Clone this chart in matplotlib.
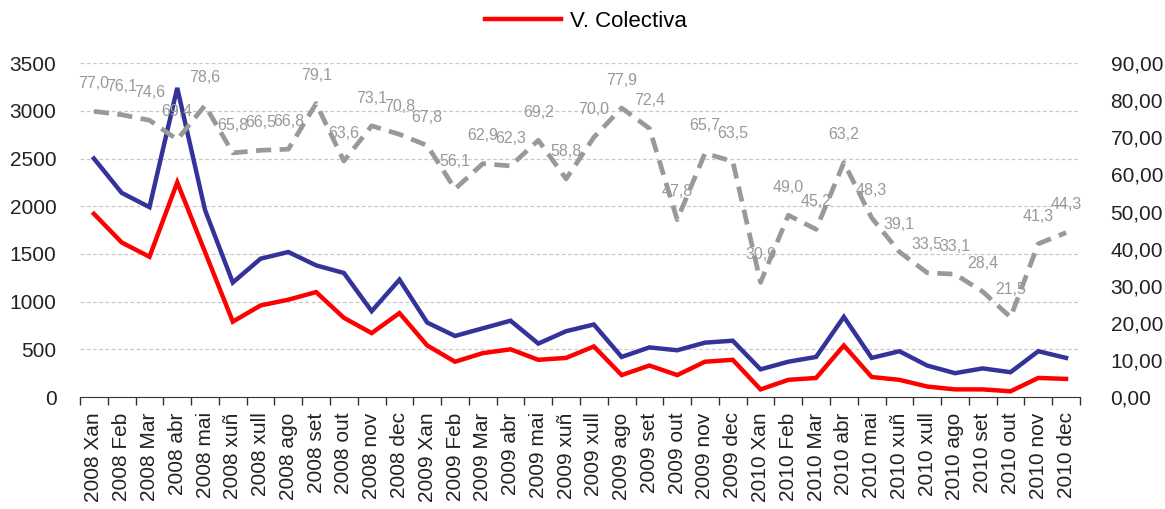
import matplotlib
matplotlib.use("Agg")
import matplotlib.pyplot as plt
from matplotlib.ticker import FixedLocator, FuncFormatter

plt.rcParams['font.family'] = ['Liberation Sans', 'DejaVu Sans']

# meses
anos = ["2008", "2009", "2010"]
meses = ["Xan", "Feb", "Mar", "abr", "mai", "xuñ", "xull", "ago", "set", "out", "nov", "dec"]
etiquetas = [a + " " + m for a in anos for m in meses]

# serie azul (eixo esquerdo)
total = [2500, 2140, 1990, 3240, 1960, 1200, 1450, 1520, 1380, 1300, 900, 1230,
         780, 640, 720, 800, 560, 690, 760, 420, 520, 490, 570, 590,
         290, 370, 420, 840, 410, 480, 330, 250, 300, 260, 480, 410]

# V. Colectiva (eixo esquerdo)
colectiva = [1920, 1620, 1470, 2250, 1520, 790, 960, 1020, 1100, 830, 670, 880,
             540, 370, 460, 500, 390, 410, 530, 230, 330, 230, 370, 390,
             80, 180, 200, 540, 210, 180, 110, 80, 80, 60, 200, 190]

# porcentaxe (eixo dereito)
porcentaxe = [77.0, 76.1, 74.6, 69.4, 78.6, 65.8, 66.5, 66.8, 79.1, 63.6, 73.1, 70.8,
              67.8, 56.1, 62.9, 62.3, 69.2, 58.8, 70.0, 77.9, 72.4, 47.8, 65.7, 63.5,
              30.9, 49.0, 45.2, 63.2, 48.3, 39.1, 33.5, 33.1, 28.4, 21.5, 41.3, 44.3]

x = list(range(len(etiquetas)))

fig = plt.figure(figsize=(11.65, 5.09), dpi=100)
ax = fig.add_axes([0.0687, 0.22, 0.8583, 0.656])
ax2 = ax.twinx()

# grella
for v in range(500, 3501, 500):
    ax.axhline(v, color="#c8c8c8", lw=0.9, ls=(0, (3, 2)), zorder=0)

ax.plot(x, total, color="#333399", lw=3.2, solid_joinstyle="miter", zorder=3)
ax.plot(x, colectiva, color="#ff0000", lw=3.2, solid_joinstyle="miter", zorder=3,
        label="V. Colectiva")

ax2.plot(x, porcentaxe, color="#999999", lw=3.4, ls=(0, (3.2, 1.8)), zorder=2)
for xi, v in zip(x, porcentaxe):
    ax2.annotate(("%.1f" % v).replace(".", ","), (xi, v), xytext=(0, 20),
                 textcoords="offset points", ha="center", va="center",
                 fontsize=11.5, color="#999999")

ax.set_xlim(-0.5, len(etiquetas) - 0.5)
ax.set_ylim(0, 3500)
ax2.set_ylim(0, 90)
ax.set_yticks(range(0, 3501, 500))
ax2.set_yticks(range(0, 91, 10))
ax2.yaxis.set_major_formatter(FuncFormatter(lambda v, p: ("%.2f" % v).replace(".", ",")))

ax.set_xticks(x)
ax.set_xticklabels(etiquetas, rotation=90, fontsize=15, color="#222222")
ax.xaxis.set_minor_locator(FixedLocator([i - 0.5 for i in range(len(etiquetas) + 1)]))
ax.tick_params(axis="x", which="major", length=0, pad=11)
ax.tick_params(axis="x", which="minor", length=6, width=1, color="#333333", direction="out")
ax.tick_params(axis="y", length=0, pad=17, labelsize=15, labelcolor="#222222")
ax2.tick_params(axis="y", length=0, pad=22, labelsize=15, labelcolor="#222222")

for a in (ax, ax2):
    for s in ("top", "left", "right"):
        a.spines[s].set_visible(False)
ax2.spines["bottom"].set_visible(False)
ax.spines["bottom"].set_color("#333333")

fig.legend(loc="center", bbox_to_anchor=(0.503, 0.958), frameon=False, fontsize=16,
           handlelength=3.4, handletextpad=0.4)

fig.savefig("out.png", dpi=100)
